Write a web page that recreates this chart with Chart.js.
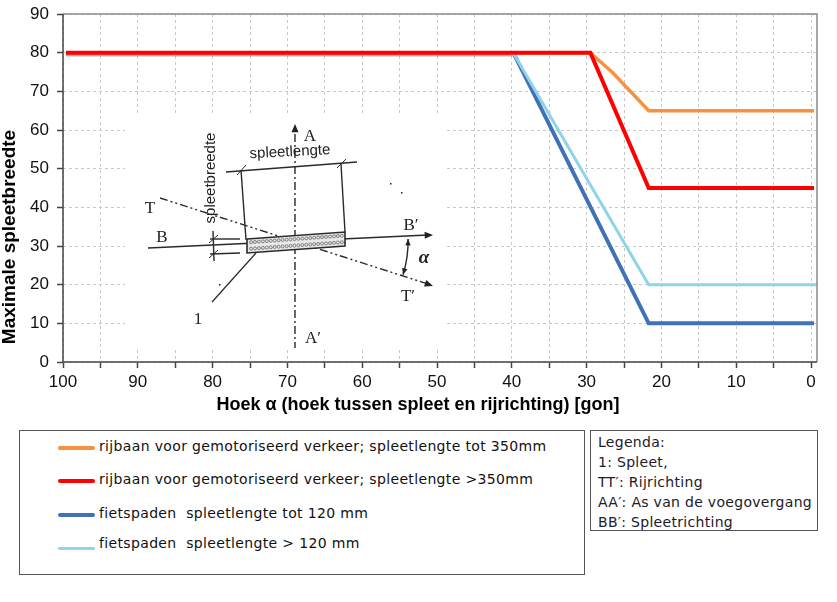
<!DOCTYPE html>
<html>
<head>
<meta charset="utf-8">
<script src="https://cdn.jsdelivr.net/npm/chart.js@4/dist/chart.umd.min.js"></script>
<style>
  html, body { margin: 0; padding: 0; background: #fff; }
  #wrap { position: relative; width: 837px; height: 602px; overflow: hidden; }
  #chartBox { position: absolute; left: 0; top: 0; width: 837px; height: 415px; }
  .box { position: absolute; border: 1px solid #555; box-sizing: border-box; background: #fff; }
  .leg-row { position: absolute; font-family: "DejaVu Sans", Verdana, sans-serif; font-size: 14px; letter-spacing: 0.35px; color: #111; white-space: pre; line-height: 17px; }
  .leg-line { position: absolute; border-radius: 2px; }
  .note { position: absolute; left: 7px; font-family: "DejaVu Sans", Verdana, sans-serif; font-size: 14px; letter-spacing: 0.3px; color: #221a2a; white-space: pre; line-height: 17px; }
</style>
</head>
<body>
<div id="wrap">
  <div id="chartBox"><canvas id="c" width="837" height="415"></canvas></div>
  <div id="legend1" class="box" style="left:19px;top:430px;width:566px;height:145px;"></div>
  <div id="legend2" class="box" style="left:590px;top:430px;width:228px;height:101px;"></div>
</div>
<script>
// ---- data ----
const seriesLabels = [
  "rijbaan voor gemotoriseerd verkeer; spleetlengte tot 350mm",
  "rijbaan voor gemotoriseerd verkeer; spleetlengte >350mm",
  "fietspaden  spleetlengte tot 120 mm",
  "fietspaden  spleetlengte > 120 mm"
];
const seriesColors = ["#F7923F", "#FF0000", "#4172B8", "#8FD4E9"];
const orangeX = [99.6, 29.5, 28.2, 26.5, 21.7, -0.4];
const orangeY = [80, 80, 77.7, 74.8, 65, 65];
const redX = [99.6, 29.5, 21.7, -0.4];
const redY = [80, 80, 45, 45];
const darkBlueX = [99.6, 39.7, 21.7, -0.4];
const darkBlueY = [79.6, 79.6, 10, 10];
const lightBlueX = [99.6, 39.7, 21.7, -0.8];
const lightBlueY = [79.6, 79.6, 20, 20];
const xTickLabels = [100, 90, 80, 70, 60, 50, 40, 30, 20, 10, 0];
const yTickLabels = [0, 10, 20, 30, 40, 50, 60, 70, 80, 90];
const legendNotes = ["Legenda:", "1: Spleet,", "TT\u2032: Rijrichting", "AA\u2032: As van de voegovergang", "BB\u2032: Spleetrichting"];
const xTitle = "Hoek \u03b1 (hoek tussen spleet en rijrichting) [gon]";
const yTitle = "Maximale spleetbreedte";

function pts(xs, ys) { return xs.map((x, i) => ({ x: x, y: ys[i] })); }

// ---- HTML legends ----
(function () {
  const l1 = document.getElementById('legend1');
  const rowsY = [17, 50, 84, 117];
  const textDy = [0, 0, 0, -3];
  const widths = [3.5, 4, 4, 3];
  seriesLabels.forEach((lab, i) => {
    const ln = document.createElement('div');
    ln.className = 'leg-line';
    ln.style.left = '38px'; ln.style.width = '37px';
    ln.style.top = (rowsY[i] - widths[i] / 2) + 'px';
    ln.style.height = widths[i] + 'px';
    ln.style.background = seriesColors[i];
    l1.appendChild(ln);
    const t = document.createElement('div');
    t.className = 'leg-row';
    t.style.left = '79px';
    t.style.top = (rowsY[i] - 10 + textDy[i]) + 'px';
    t.textContent = lab;
    l1.appendChild(t);
  });
  const l2 = document.getElementById('legend2');
  legendNotes.forEach((s, i) => {
    const t = document.createElement('div');
    t.className = 'note';
    t.style.top = (3 + i * 20) + 'px';
    t.textContent = s;
    l2.appendChild(t);
  });
})();

// ---- plugins ----
const framePlugin = {
  id: 'frame',
  afterDatasetsDraw(chart) {
    const { ctx, chartArea: a } = chart;
    ctx.save();
    ctx.strokeStyle = '#8a8a8a';
    ctx.lineWidth = 1.5;
    ctx.beginPath();
    ctx.moveTo(a.left, a.top); ctx.lineTo(a.right, a.top); ctx.lineTo(a.right, a.bottom);
    ctx.stroke();
    ctx.strokeStyle = '#444';
    ctx.beginPath();
    ctx.moveTo(a.left, a.top); ctx.lineTo(a.left, a.bottom); ctx.lineTo(a.right, a.bottom);
    ctx.stroke();
    ctx.restore();
  },
  afterDraw(chart) {
    const { ctx, chartArea: a } = chart;
    ctx.save();
    ctx.fillStyle = '#000';
    ctx.textAlign = 'center';
    ctx.textBaseline = 'middle';
    ctx.font = 'bold 18px "Liberation Sans", Arial, sans-serif';
    ctx.fillText(xTitle, (a.left + a.right) / 2 - 22, a.bottom + 43);
    ctx.font = 'bold 19px "Liberation Sans", Arial, sans-serif';
    ctx.translate(10, (a.top + a.bottom) / 2 + 49);
    ctx.rotate(-Math.PI / 2);
    ctx.fillText(yTitle, 0, 0);
    ctx.restore();
  }
};

function arrowHead(ctx, x1, y1, x2, y2, size) {
  const ang = Math.atan2(y2 - y1, x2 - x1);
  ctx.beginPath();
  ctx.moveTo(x2, y2);
  ctx.lineTo(x2 - size * Math.cos(ang - 0.4), y2 - size * Math.sin(ang - 0.4));
  ctx.lineTo(x2 - size * Math.cos(ang + 0.4), y2 - size * Math.sin(ang + 0.4));
  ctx.closePath();
  ctx.fill();
}

const diagramPlugin = {
  id: 'diagram',
  beforeDatasetsDraw(chart) {
    const ctx = chart.ctx;
    ctx.save();
    // white panel (embedded sketch)
    ctx.fillStyle = '#fff';
    ctx.fillRect(125, 115, 321, 235);
    ctx.strokeStyle = '#2a2a2a';
    ctx.fillStyle = '#222';
    ctx.lineWidth = 1.4;
    const dashDot = [8, 3, 2, 3];

    // AA' axis
    ctx.setLineDash(dashDot);
    ctx.beginPath(); ctx.moveTo(295, 134); ctx.lineTo(295, 348); ctx.stroke();
    ctx.setLineDash([]);
    arrowHead(ctx, 295, 140, 295, 124, 9);

    // TT' direction
    ctx.setLineDash([8, 3, 2, 3, 2, 3]);
    ctx.beginPath(); ctx.moveTo(160, 198); ctx.lineTo(428, 284); ctx.stroke();
    ctx.setLineDash([]);
    arrowHead(ctx, 410, 278, 433, 286, 9);

    // BB' direction
    ctx.beginPath(); ctx.moveTo(148, 248); ctx.lineTo(428, 235); ctx.stroke();
    arrowHead(ctx, 410, 236, 433, 235, 9);

    // slit rectangle
    ctx.beginPath();
    ctx.moveTo(247, 239); ctx.lineTo(345, 232); ctx.lineTo(345, 246); ctx.lineTo(247, 253); ctx.closePath();
    ctx.fillStyle = '#e8e8e8'; ctx.fill();
    ctx.lineWidth = 1.6; ctx.stroke();
    ctx.lineWidth = 0.8;
    ctx.strokeStyle = '#666';
    for (let r = 0; r < 2; r++) {
      for (let k = 0; k < 24; k++) {
        const px = 251 + k * 3.95;
        const py = 242.5 + r * 6.5 - (px - 247) * 0.0714;
        ctx.beginPath(); ctx.arc(px, py, 1.5, 0, Math.PI * 2); ctx.stroke();
      }
    }
    ctx.strokeStyle = '#2a2a2a';
    ctx.fillStyle = '#222';
    ctx.lineWidth = 1.4;

    // spleetlengte dimension
    ctx.beginPath(); ctx.moveTo(226, 172); ctx.lineTo(357, 162); ctx.stroke();
    ctx.beginPath(); ctx.moveTo(241, 170); ctx.lineTo(246, 240); ctx.stroke();
    ctx.beginPath(); ctx.moveTo(341, 164); ctx.lineTo(345, 232); ctx.stroke();
    ctx.lineWidth = 1;
    ctx.beginPath(); ctx.moveTo(237, 175); ctx.lineTo(246, 165); ctx.stroke();
    ctx.beginPath(); ctx.moveTo(337, 168); ctx.lineTo(346, 159); ctx.stroke();
    ctx.lineWidth = 1.4;

    // spleetbreedte dimension
    ctx.beginPath(); ctx.moveTo(213, 231); ctx.lineTo(214, 261); ctx.stroke();
    ctx.beginPath(); ctx.moveTo(210, 239); ctx.lineTo(240, 239); ctx.stroke();
    ctx.beginPath(); ctx.moveTo(210, 254); ctx.lineTo(240, 253); ctx.stroke();
    ctx.lineWidth = 1;
    ctx.beginPath(); ctx.moveTo(209, 243); ctx.lineTo(218, 235); ctx.stroke();
    ctx.beginPath(); ctx.moveTo(209, 258); ctx.lineTo(218, 250); ctx.stroke();
    ctx.lineWidth = 1.2;

    // leader line for "1"
    ctx.beginPath(); ctx.moveTo(212, 302); ctx.lineTo(256, 253); ctx.stroke();

    // angle alpha arc
    const cx = 294.6, cy = 241.2, rad = 113.5;
    const a1 = -0.02, a2 = 0.30;
    ctx.lineWidth = 1.4;
    ctx.beginPath(); ctx.arc(cx, cy, rad, a1, a2); ctx.stroke();
    arrowHead(ctx, cx + rad * Math.cos(a1 + 0.06), cy + rad * Math.sin(a1 + 0.06), cx + rad * Math.cos(a1), cy + rad * Math.sin(a1), 7);
    arrowHead(ctx, cx + rad * Math.cos(a2 - 0.06), cy + rad * Math.sin(a2 - 0.06), cx + rad * Math.cos(a2), cy + rad * Math.sin(a2), 7);

    // stray dots
    [[390, 183], [401, 192], [219, 284]].forEach(p => { ctx.fillRect(p[0], p[1], 1.5, 1.5); });

    // texts
    ctx.fillStyle = '#222';
    ctx.textAlign = 'center';
    ctx.textBaseline = 'middle';
    ctx.font = '17px "Liberation Serif", "DejaVu Serif", serif';
    ctx.fillText('A', 310, 137);
    ctx.fillText('A\u2032', 313, 339);
    ctx.fillText('B', 162, 238);
    ctx.fillText('B\u2032', 411, 226);
    ctx.fillText('T', 150, 209);
    ctx.fillText('T\u2032', 408, 297);
    ctx.fillText('1', 198, 320);
    ctx.font = 'bold italic 19px "Liberation Serif", "DejaVu Serif", serif';
    ctx.fillText('\u03b1', 424, 258);
    ctx.font = '15px "Liberation Sans", Arial, sans-serif';
    ctx.save();
    ctx.translate(290, 152); ctx.rotate(-0.05);
    ctx.fillText('spleetlengte', 0, 0);
    ctx.restore();
    ctx.save();
    ctx.translate(211, 178); ctx.rotate(-Math.PI / 2);
    ctx.fillText('spleetbreedte', 0, 0);
    ctx.restore();
    ctx.restore();
  }
};

// ---- chart ----
const xTickFont = { family: '"Liberation Sans", Arial, sans-serif', size: 17, lineHeight: 1 };
const yTickFont = { family: '"Liberation Sans", Arial, sans-serif', size: 17, lineHeight: 0.6 };
new Chart(document.getElementById('c'), {
  type: 'line',
  data: {
    datasets: [
      { label: seriesLabels[0], data: pts(orangeX, orangeY), borderColor: seriesColors[0], borderWidth: 3.5, order: 1 },
      { label: seriesLabels[1], data: pts(redX, redY), borderColor: seriesColors[1], borderWidth: 4, order: 0 },
      { label: seriesLabels[2], data: pts(darkBlueX, darkBlueY), borderColor: seriesColors[2], borderWidth: 4, order: 3 },
      { label: seriesLabels[3], data: pts(lightBlueX, lightBlueY), borderColor: seriesColors[3], borderWidth: 3, order: 2 }
    ].map(d => Object.assign(d, { pointRadius: 0, tension: 0, fill: false, borderJoinStyle: 'miter', borderCapStyle: 'butt' }))
  },
  options: {
    responsive: false,
    animation: false,
    events: [],
    layout: { padding: { top: 14, right: 20, left: 0, bottom: 0 } },
    plugins: { legend: { display: false }, tooltip: { enabled: false }, title: { display: false } },
    scales: {
      x: {
        type: 'linear',
        reverse: true,
        min: -0.8,
        max: 100,
        afterFit(s) { s.height = 53; },
        afterBuildTicks(s) { s.ticks = []; for (let v = 0; v <= 100; v += 5) s.ticks.push({ value: v }); },
        ticks: {
          stepSize: 5, autoSkip: false, maxRotation: 0, includeBounds: false,
          color: '#111', font: xTickFont, padding: 6,
          callback: v => (xTickLabels.includes(v) ? String(v) : '')
        },
        grid: { color: '#c8c8c8', lineWidth: 1, tickLength: 6, tickColor: '#444', tickWidth: 1.5 },
        border: { display: false, dash: [3, 3] }
      },
      y: {
        type: 'linear',
        min: 0,
        max: 90,
        afterFit(s) { s.width = 63; },
        afterBuildTicks(s) { s.ticks = yTickLabels.map(v => ({ value: v })); },
        ticks: { stepSize: 10, color: '#111', font: yTickFont, padding: 8 },
        grid: { color: '#c8c8c8', lineWidth: 1, tickLength: 6, tickColor: '#444', tickWidth: 1.5 },
        border: { display: false, dash: [3, 3] }
      }
    }
  },
  plugins: [diagramPlugin, framePlugin]
});
</script>
</body>
</html>
